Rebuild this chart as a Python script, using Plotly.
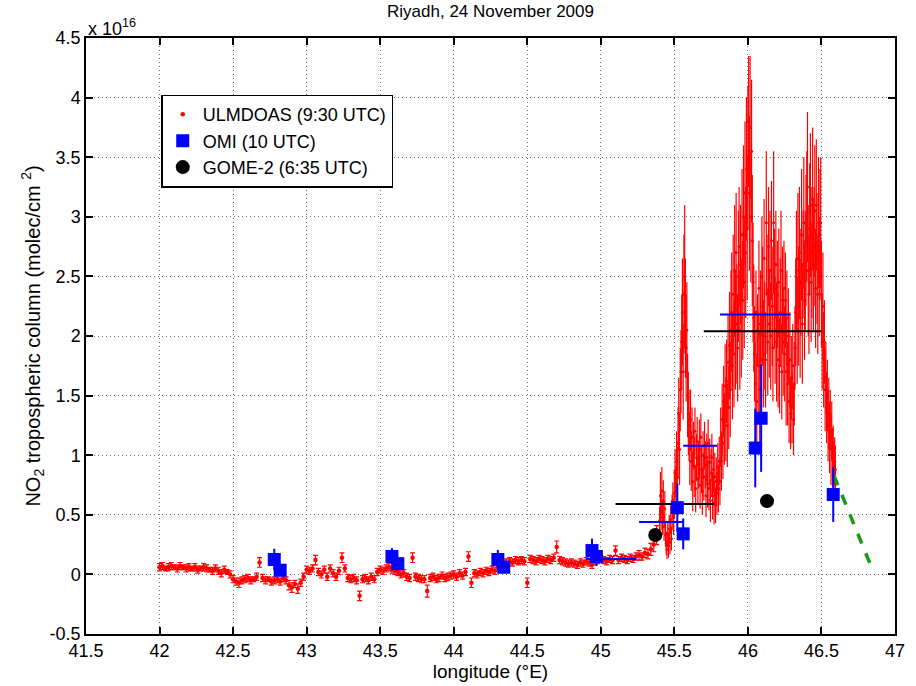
import numpy as np
import plotly.graph_objects as go

# ---------------- ULMDOAS aircraft NO2 columns (units of 1e16 molec/cm2) ----------------
# western part of the track, sampled every 0.02 deg longitude from 42.00 E
west_start, west_step = 42.00, 0.02
west_vcd = [
    0.06, 0.07, 0.05, 0.06, 0.07, 0.06, 0.05, 0.07, 0.06, 0.05,
    0.06, 0.05, 0.06, 0.04, 0.05, 0.06, 0.05, 0.04, 0.03, 0.05,
    0.03, 0.01, 0.04, 0.02, 0.00, -0.04, -0.06, -0.07, -0.05, -0.04,
    -0.03, -0.05, -0.04, -0.02, 0.10, -0.03, -0.05, -0.04, -0.06, -0.05,
    -0.04, -0.06, -0.03, -0.05, -0.09, -0.11, -0.08, -0.12, -0.07, -0.02,
    0.04, 0.03, 0.05, 0.12, 0.02, 0.00, 0.04, -0.02, 0.05, 0.01,
    -0.02, 0.03, 0.14, 0.05, -0.03, -0.04, -0.03, -0.05, -0.18, -0.04,
    -0.03, -0.05, -0.02, -0.04, 0.02, 0.04, 0.03, 0.05, 0.06, 0.04,
    0.03, 0.02, 0.00, 0.01, -0.02, -0.03, 0.14, -0.02, -0.03, -0.04,
    -0.04, -0.14, -0.03, -0.02, -0.04, -0.03, -0.01, -0.03, -0.02, -0.01,
    0.00, -0.02, 0.01, -0.01, 0.02, 0.15, -0.07, 0.01, 0.00, 0.02,
    0.01, 0.03, 0.02, 0.04, 0.03, 0.06, 0.07, 0.09, 0.10, 0.11,
    0.10, 0.12, 0.11, 0.12, 0.11, -0.07, 0.13, 0.12, 0.11, 0.13,
    0.12, 0.11, 0.13, 0.12, 0.14, 0.23, 0.12, 0.11, 0.10, 0.09,
    0.10, 0.09, 0.08, 0.10, 0.09, 0.11, 0.10, 0.08, 0.11, 0.12,
    0.13, 0.12, 0.11, 0.13, 0.12, 0.20, 0.12, 0.14, 0.13, 0.12,
    0.14, 0.13, 0.15, 0.16, 0.15, 0.18, 0.17, 0.21, 0.25, 0.33,
]
west_err = [
    0.03, 0.03, 0.02, 0.03, 0.03, 0.02, 0.03, 0.03, 0.02, 0.03,
    0.03, 0.02, 0.03, 0.03, 0.02, 0.03, 0.03, 0.02, 0.03, 0.03,
    0.03, 0.03, 0.03, 0.02, 0.03, 0.03, 0.03, 0.04, 0.03, 0.03,
    0.03, 0.03, 0.02, 0.03, 0.04, 0.03, 0.03, 0.02, 0.03, 0.03,
    0.03, 0.03, 0.03, 0.03, 0.04, 0.04, 0.03, 0.04, 0.03, 0.03,
    0.03, 0.03, 0.03, 0.04, 0.03, 0.03, 0.03, 0.03, 0.03, 0.03,
    0.03, 0.03, 0.04, 0.03, 0.03, 0.03, 0.03, 0.03, 0.04, 0.03,
    0.03, 0.03, 0.03, 0.03, 0.03, 0.03, 0.03, 0.03, 0.03, 0.03,
    0.03, 0.03, 0.03, 0.03, 0.03, 0.03, 0.04, 0.03, 0.03, 0.03,
    0.03, 0.05, 0.03, 0.03, 0.03, 0.03, 0.03, 0.03, 0.03, 0.03,
    0.03, 0.03, 0.03, 0.03, 0.03, 0.04, 0.04, 0.03, 0.03, 0.03,
    0.03, 0.03, 0.03, 0.03, 0.03, 0.03, 0.03, 0.03, 0.03, 0.03,
    0.03, 0.03, 0.03, 0.03, 0.03, 0.04, 0.03, 0.03, 0.03, 0.03,
    0.03, 0.03, 0.03, 0.03, 0.03, 0.05, 0.03, 0.03, 0.03, 0.03,
    0.03, 0.03, 0.03, 0.03, 0.03, 0.03, 0.03, 0.03, 0.03, 0.03,
    0.03, 0.03, 0.03, 0.03, 0.03, 0.04, 0.03, 0.03, 0.03, 0.03,
    0.03, 0.03, 0.03, 0.04, 0.03, 0.04, 0.04, 0.05, 0.06, 0.08,
]

# Riyadh city part of the track, sampled every 0.005 deg longitude from 45.40 E
city_start, city_step = 45.40, 0.005
city_vcd = [
    0.45, 0.66, 0.52, 0.70, 0.48, 0.61, 0.40, 0.55, 0.33, 0.26,
    0.21, 0.34, 0.24, 0.38, 0.27, 0.46, 0.30, 0.52, 0.62, 0.48,
    0.68, 0.85, 0.70, 0.95, 0.82, 1.10, 1.35, 1.05, 1.55, 1.70,
    1.95, 2.20, 1.70, 2.35, 2.50, 2.15, 1.90, 2.05, 1.50, 1.35,
    1.25, 1.05, 1.30, 0.95, 1.15, 0.78, 1.08, 0.90, 1.20, 0.72,
    0.98, 1.12, 0.80, 0.92, 1.05, 0.75, 1.15, 0.88, 0.70, 1.00,
    0.82, 1.08, 0.92, 0.66, 0.98, 0.76, 1.10, 0.72, 0.94, 0.62,
    0.85, 0.98, 0.66, 0.88, 0.60, 0.82, 0.58, 0.78, 0.68, 0.90,
    0.72, 0.95, 0.78, 1.15, 0.95, 1.30, 1.10, 1.45, 1.22, 1.58,
    1.30, 1.62, 1.25, 1.78, 1.40, 1.92, 1.55, 2.05, 2.20, 1.75,
    2.35, 1.85, 2.55, 2.05, 2.70, 2.10, 1.90, 2.50, 2.75, 2.05,
    2.60, 2.15, 2.85, 2.30, 3.00, 2.45, 3.20, 2.70, 3.40, 2.90,
    3.50, 3.80, 3.20, 3.75, 3.00, 3.55, 2.80, 2.45, 2.15, 1.85,
    1.60, 2.20, 1.45, 2.05, 1.75, 2.40, 1.55, 2.10, 1.80, 2.50,
    2.25, 1.85, 2.65, 2.00, 1.80, 2.95, 2.35, 1.95, 2.75, 2.10,
    2.55, 2.00, 2.80, 2.25, 1.90, 2.95, 2.40, 2.05, 2.60, 1.95,
    2.35, 1.80, 2.45, 1.75, 2.20, 2.55, 1.70, 2.30, 1.95, 2.40,
    1.85, 2.30, 1.70, 2.15, 1.60, 2.00, 1.45, 1.80, 1.35, 1.65,
    1.40, 1.75, 1.30, 1.60, 1.90, 2.20, 2.55, 2.05, 2.65, 2.25,
    2.70, 2.15, 2.45, 2.85, 2.10, 2.60, 2.95, 2.30, 2.55, 2.80,
    3.00, 3.25, 2.55, 2.35, 2.90, 3.10, 2.45, 2.70, 3.15, 2.60,
    2.75, 3.05, 2.40, 3.10, 2.65, 2.35, 2.95, 2.50, 2.85, 2.95,
    2.35, 1.95, 2.25, 1.80, 1.95, 1.55, 1.65, 1.40, 1.50, 1.25,
    1.35, 1.15, 1.30, 1.05, 1.20, 0.98, 1.05, 0.92, 0.95, 0.88,
]
city_err = [
    0.12, 0.20, 0.15, 0.20, 0.15, 0.18, 0.12, 0.15, 0.10, 0.10,
    0.08, 0.10, 0.10, 0.12, 0.10, 0.12, 0.10, 0.15, 0.15, 0.15,
    0.20, 0.20, 0.20, 0.25, 0.25, 0.30, 0.30, 0.30, 0.35, 0.35,
    0.40, 0.45, 0.40, 0.50, 0.60, 0.50, 0.45, 0.40, 0.35, 0.35,
    0.30, 0.30, 0.25, 0.25, 0.25, 0.25, 0.20, 0.25, 0.20, 0.20,
    0.20, 0.20, 0.20, 0.20, 0.25, 0.20, 0.20, 0.20, 0.20, 0.20,
    0.20, 0.20, 0.20, 0.18, 0.20, 0.20, 0.20, 0.18, 0.20, 0.18,
    0.20, 0.20, 0.20, 0.20, 0.18, 0.20, 0.15, 0.20, 0.18, 0.20,
    0.20, 0.20, 0.20, 0.25, 0.25, 0.30, 0.30, 0.30, 0.30, 0.35,
    0.35, 0.35, 0.35, 0.40, 0.35, 0.45, 0.40, 0.50, 0.50, 0.45,
    0.50, 0.45, 0.55, 0.50, 0.50, 0.50, 0.45, 0.55, 0.50, 0.50,
    0.50, 0.50, 0.55, 0.50, 0.60, 0.55, 0.60, 0.55, 0.60, 0.60,
    0.60, 0.55, 0.65, 0.60, 0.55, 0.60, 0.55, 0.50, 0.45, 0.40,
    0.35, 0.35, 0.40, 0.30, 0.45, 0.40, 0.50, 0.45, 0.40, 0.50,
    0.50, 0.45, 0.50, 0.45, 0.40, 0.60, 0.50, 0.45, 0.50, 0.45,
    0.50, 0.45, 0.50, 0.50, 0.45, 0.60, 0.50, 0.45, 0.45, 0.50,
    0.45, 0.40, 0.45, 0.40, 0.45, 0.50, 0.40, 0.45, 0.45, 0.40,
    0.40, 0.40, 0.45, 0.40, 0.35, 0.40, 0.35, 0.40, 0.30, 0.35,
    0.30, 0.35, 0.30, 0.35, 0.35, 0.45, 0.50, 0.45, 0.55, 0.50,
    0.55, 0.50, 0.45, 0.55, 0.50, 0.45, 0.55, 0.50, 0.50, 0.55,
    0.55, 0.63, 0.55, 0.50, 0.55, 0.60, 0.50, 0.55, 0.60, 0.55,
    0.50, 0.55, 0.50, 0.55, 0.55, 0.50, 0.55, 0.50, 0.55, 0.55,
    0.45, 0.40, 0.45, 0.40, 0.35, 0.35, 0.30, 0.30, 0.30, 0.30,
    0.30, 0.30, 0.25, 0.30, 0.25, 0.25, 0.20, 0.20, 0.20, 0.20,
]

# ---------------- OMI pixels (10 UTC) ----------------
omi_lon = [42.78, 42.82, 43.58, 43.62, 44.30, 44.34, 44.94, 44.97, 45.52, 45.56, 46.05, 46.09, 46.58]
omi_vcd = [0.125, 0.035, 0.15, 0.09, 0.125, 0.06, 0.20, 0.15, 0.56, 0.34, 1.06, 1.31, 0.67]
omi_err = [0.09, 0.05, 0.07, 0.05, 0.08, 0.05, 0.10, 0.08, 0.20, 0.13, 0.33, 0.45, 0.23]

# ---------------- GOME-2 pixels (6:35 UTC) ----------------
gome_lon = [45.37, 46.13]
gome_vcd = [0.33, 0.615]

# aircraft means over the satellite pixels (west edge, east edge, mean)
omi_mean_w = [44.90, 45.26, 45.56, 45.81]
omi_mean_e = [45.24, 45.56, 45.79, 46.29]
omi_mean_v = [0.13, 0.44, 1.08, 2.18]
gome_mean_w = [45.10, 45.70]
gome_mean_e = [45.77, 46.50]
gome_mean_v = [0.59, 2.04]

# extrapolation of the plume east of the track end
extrap_lon = [46.585, 46.84]
extrap_vcd = [0.83, 0.06]

x_ticks = [41.5, 42, 42.5, 43, 43.5, 44, 44.5, 45, 45.5, 46, 46.5, 47]
x_labels = ["41.5", "42", "42.5", "43", "43.5", "44", "44.5", "45", "45.5", "46", "46.5", "47"]
y_ticks = [-0.5, 0, 0.5, 1, 1.5, 2, 2.5, 3, 3.5, 4, 4.5]
y_labels = ["-0.5", "0", "0.5", "1", "1.5", "2", "2.5", "3", "3.5", "4", "4.5"]

FONT = "Arial, Liberation Sans, sans-serif"
RED = "#ff0000"

west_lon = np.round(west_start + west_step * np.arange(len(west_vcd)), 3)
city_lon = np.round(city_start + city_step * np.arange(len(city_vcd)), 4)


def segments(x0, x1, v):
    xs, ys = [], []
    for a, b, c in zip(x0, x1, v):
        xs += [a, b, None]
        ys += [c, c, None]
    return xs, ys


fig = go.Figure()

# aircraft data: small capped bars in the background, plain bars over the city
fig.add_trace(go.Scatter(
    x=west_lon, y=west_vcd, mode="markers", name="ULMDOAS (9:30 UTC)",
    legendgroup="ulm", marker=dict(color=RED, size=4.5),
    error_y=dict(type="data", array=west_err, color=RED, thickness=1.2, width=2.5),
))
fig.add_trace(go.Scatter(
    x=city_lon, y=city_vcd, mode="markers", name="ULMDOAS (9:30 UTC)",
    legendgroup="ulm", showlegend=False, marker=dict(color=RED, size=3),
    error_y=dict(type="data", array=city_err, color=RED, thickness=1.2, width=0),
))

ox, oy = segments(omi_mean_w, omi_mean_e, omi_mean_v)
fig.add_trace(go.Scatter(x=ox, y=oy, mode="lines", showlegend=False,
                         line=dict(color="#0000ff", width=2), hoverinfo="skip"))
gx, gy = segments(gome_mean_w, gome_mean_e, gome_mean_v)
fig.add_trace(go.Scatter(x=gx, y=gy, mode="lines", showlegend=False,
                         line=dict(color="#000000", width=2), hoverinfo="skip"))

fig.add_trace(go.Scatter(
    x=extrap_lon, y=extrap_vcd, mode="lines", showlegend=False,
    line=dict(color="#1a9a1a", width=3.5, dash="dash"),
))

fig.add_trace(go.Scatter(
    x=omi_lon, y=omi_vcd, mode="markers", name="OMI (10 UTC)",
    marker=dict(symbol="square", color="#0000ff", size=13, line=dict(width=0)),
    error_y=dict(type="data", array=omi_err, color="#0000ff", thickness=2, width=0),
))

fig.add_trace(go.Scatter(
    x=gome_lon, y=gome_vcd, mode="markers", name="GOME-2 (6:35 UTC)",
    marker=dict(symbol="circle", color="#000000", size=14, line=dict(width=0)),
))

axis_common = dict(
    showline=True, linecolor="black", linewidth=1.5, mirror="ticks",
    ticks="inside", ticklen=7, tickwidth=1.5, tickcolor="black",
    showgrid=True, gridcolor="#707070", griddash="1px,3px", gridwidth=1,
    zeroline=False, tickfont=dict(family=FONT, size=18, color="black"),
)

fig.update_xaxes(
    range=[41.5, 47], tickvals=x_ticks, ticktext=x_labels,
    title=dict(text="longitude (°E)", font=dict(family=FONT, size=19, color="black"), standoff=0),
    **axis_common,
)
fig.update_yaxes(
    range=[-0.5, 4.5], tickvals=y_ticks, ticktext=y_labels,
    title=dict(text="NO<sub>2</sub> tropospheric column (molec/cm <sup>2</sup>)",
               font=dict(family=FONT, size=20, color="black"), standoff=4),
    **axis_common,
)

fig.add_annotation(
    x=0, y=1, xref="paper", yref="paper", xanchor="left", yanchor="bottom",
    text="x 10<sup>16</sup>", showarrow=False, yshift=-3,
    font=dict(family=FONT, size=18, color="black"),
)

fig.update_layout(
    width=916, height=686,
    margin=dict(l=86, r=11, t=38, b=46),
    paper_bgcolor="white", plot_bgcolor="white",
    title=dict(text="Riyadh, 24 November 2009", x=0.5, xref="paper", xanchor="center",
               y=0.993, yanchor="top",
               font=dict(family=FONT, size=17, color="black")),
    legend=dict(
        x=0.093, y=0.905, xanchor="left", yanchor="top",
        bgcolor="white", bordercolor="black", borderwidth=1.5,
        font=dict(family=FONT, size=18, color="black"),
        tracegroupgap=0,
    ),
    showlegend=True,
)

fig.write_html("out.html")
